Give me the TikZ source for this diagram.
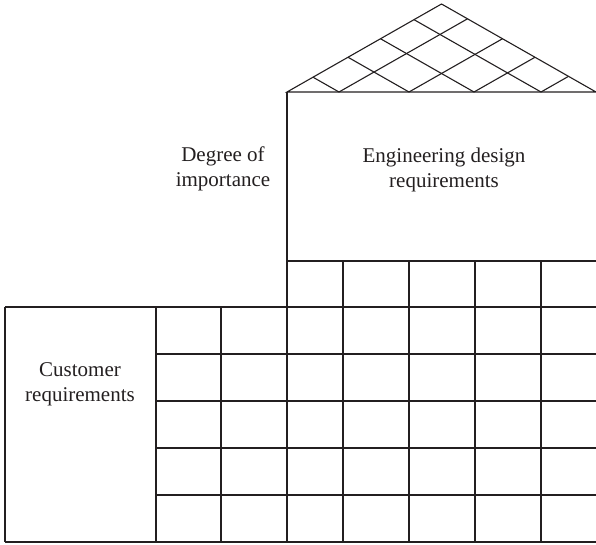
\documentclass[tikz,border=0pt]{standalone}
\usepackage{fontspec}
\setmainfont{Liberation Serif}
\definecolor{ink}{HTML}{231F20}
\begin{document}
\begin{tikzpicture}[x=1pt,y=-1pt,
  gridline/.style={draw=ink,line width=1.1pt},
  label/.style={align=center,anchor=base,text=ink,inner sep=0pt,
    font=\fontsize{21}{25}\selectfont}]
\useasboundingbox (0,0) rectangle (596,545);
% key coordinates
\coordinate (RL) at (287,92);
\coordinate (RA) at (441.5,4);
\coordinate (RR) at (596,92);
% roof
\draw[gridline,line join=miter] (RL) -- (RA) -- (RR) -- cycle;
\foreach \b/\ulx/\uly/\urx/\ury in {339/313/77.19/467.5/18.81,
                                   409/348/57.25/502.5/38.74,
                                   474/380.5/38.74/535/57.25,
                                   541/414/19.66/568.5/76.34}{
  \coordinate (B\b) at (\b,92);
  \coordinate (UL\b) at (\ulx,\uly);
  \coordinate (UR\b) at (\urx,\ury);
  \draw[gridline] (UL\b) -- (B\b) -- (UR\b);
}
% engineering box left side
\coordinate (EB) at (287,542);
\draw[gridline] (RL) -- (EB);
% upper small grid
\coordinate (U1L) at (287,261); \coordinate (U1R) at (596,261);
\draw[gridline] (U1L) -- (U1R);
\foreach \x in {343,409,475,541}{
  \coordinate (VT\x) at (\x,261); \coordinate (VB\x) at (\x,542);
  \draw[gridline] (VT\x) -- (VB\x);
}
% customer box and lower grid
\coordinate (CTL) at (5,307); \coordinate (CBL) at (5,542);
\draw[gridline] (CTL) -- (CBL);
\foreach \x in {156,221}{
  \coordinate (LT\x) at (\x,307); \coordinate (LB\x) at (\x,542);
  \draw[gridline] (LT\x) -- (LB\x);
}
\foreach \y in {354,401,448,495}{
  \coordinate (HL\y) at (156,\y); \coordinate (HR\y) at (596,\y);
  \draw[gridline] (HL\y) -- (HR\y);
}
\coordinate (TopR) at (596,307); \coordinate (BotR) at (596,542);
\draw[gridline] (CTL) -- (TopR);
\draw[gridline] (CBL) -- (BotR);
% labels
\node[label] (deg) at (223,187) {Degree of\\importance};
\node[label] (eng) at (444,188) {Engineering design\\requirements};
\node[label] (cust) at (80,401) {Customer\\requirements};
\end{tikzpicture}
\end{document}
